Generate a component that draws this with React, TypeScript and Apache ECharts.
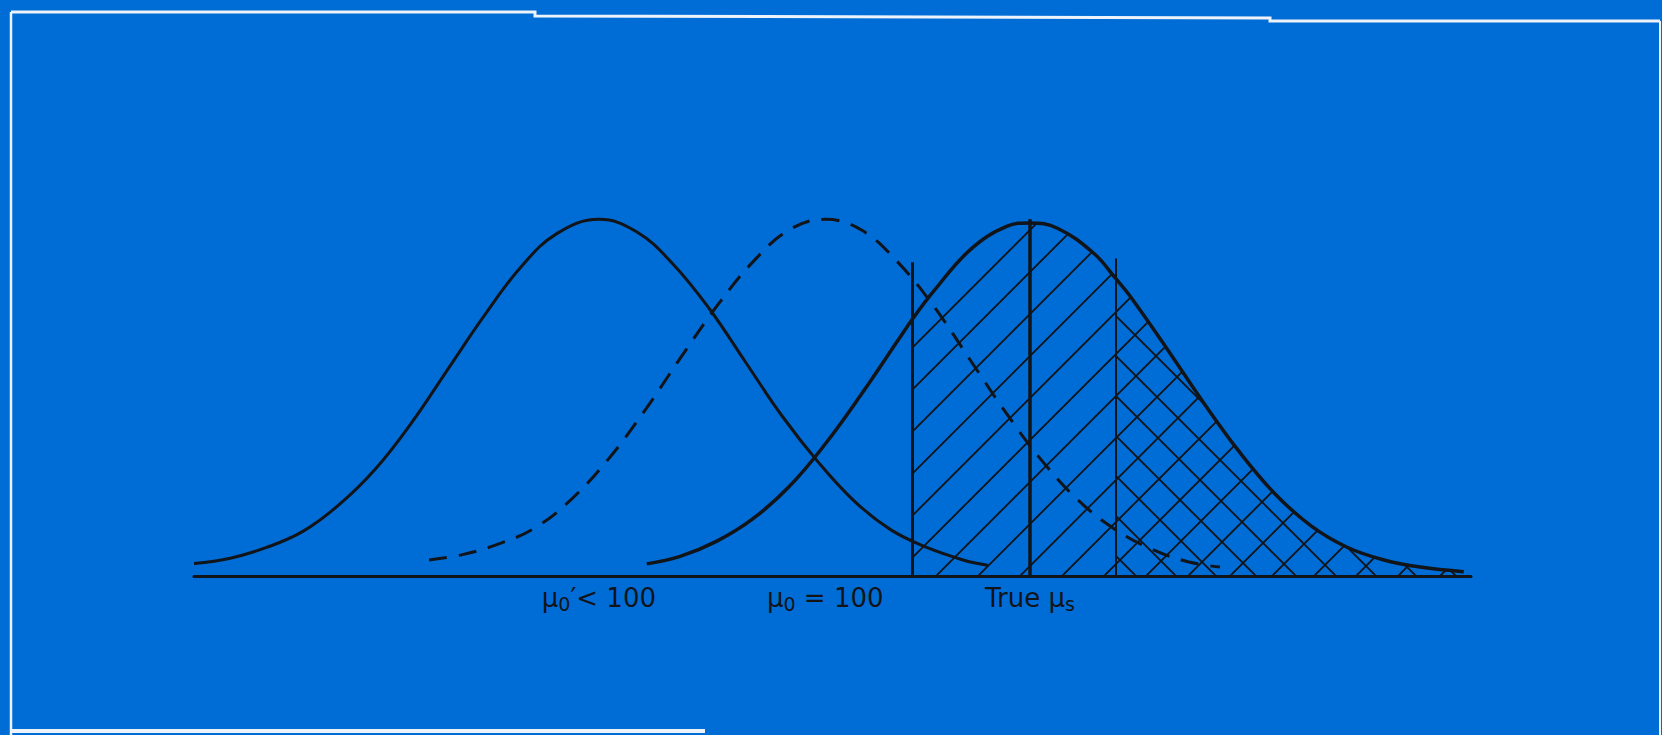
import React, { useEffect, useRef } from "react";
import * as echarts from "echarts";

// ---- data (x in score units, y = relative height) ----
const altNullX = [56.5, 59, 61.5, 64, 66.5, 69, 71.5, 74, 76.5, 79, 81.5, 84.4, 87, 89.5, 92, 94.5, 97, 99.5, 102, 104.5, 107, 109.5, 111.2];
const altNullY = [0.035, 0.05, 0.08, 0.125, 0.2, 0.3, 0.43, 0.58, 0.73, 0.865, 0.96, 1.0, 0.965, 0.875, 0.75, 0.6, 0.45, 0.32, 0.21, 0.13, 0.08, 0.045, 0.03];

const nullX = [72.7, 75, 77.5, 80, 82.5, 85, 87.5, 90, 92.5, 95, 97.5, 100, 102.5, 105, 107.5, 110, 112.5, 115, 117.5, 120, 122.5, 125, 127.2];
const nullY = [0.045, 0.06, 0.09, 0.135, 0.215, 0.325, 0.46, 0.61, 0.755, 0.88, 0.97, 1.0, 0.97, 0.88, 0.755, 0.605, 0.455, 0.32, 0.21, 0.13, 0.075, 0.04, 0.025];

const trueX = [87.7, 90, 92.5, 95, 97.5, 100, 102.5, 105, 106, 107.5, 110, 112.5, 114.1, 116, 118.5, 120, 121, 123.5, 126, 128.5, 131, 133.5, 136, 138.5, 141, 144];
const trueY = [0.034, 0.055, 0.097, 0.16, 0.25, 0.37, 0.51, 0.66, 0.72, 0.8, 0.915, 0.98, 0.99, 0.975, 0.905, 0.835, 0.785, 0.64, 0.49, 0.35, 0.23, 0.14, 0.08, 0.045, 0.025, 0.012];

const criticalX = 106;
const criticalTop = 0.88;
const trueMeanX = 114.1;
const trueMeanTop = 1.0;
const upperX = 120;
const upperTop = 0.89;

const tickValues = [84.4, 100, 114.1];
const tickLabels = [
  "{t|μ}{s|0}{t|′< 100}",
  "{t|μ}{s|0}{t| = 100}",
  "{t|True μ}{s|s}",
];

const BG = "#006CD6";
const INK = "#111418";

function hatch(dir: number, w: number, h: number, lw: number) {
  const c = document.createElement("canvas");
  c.width = w;
  c.height = h;
  const ctx = c.getContext("2d")!;
  ctx.strokeStyle = INK;
  ctx.lineWidth = lw;
  ctx.beginPath();
  if (dir > 0) {
    ctx.moveTo(0, h); ctx.lineTo(w, 0);
    ctx.moveTo(-w / 2, h / 2); ctx.lineTo(w / 2, -h / 2);
    ctx.moveTo(w / 2, h * 1.5); ctx.lineTo(w * 1.5, h / 2);
  } else {
    ctx.moveTo(0, 0); ctx.lineTo(w, h);
    ctx.moveTo(w / 2, -h / 2); ctx.lineTo(w * 1.5, h / 2);
    ctx.moveTo(-w / 2, h / 2); ctx.lineTo(w / 2, h * 1.5);
  }
  ctx.stroke();
  return { image: c, repeat: "repeat", imageWidth: w, imageHeight: h } as any;
}

const zip = (xs: number[], ys: number[]) => xs.map((x, i) => [x, ys[i]]);

export default function App() {
  const ref = useRef<HTMLDivElement>(null);
  useEffect(() => {
    document.body.style.margin = "0";
    document.body.style.background = BG;
    const chart = echarts.init(ref.current!, null, { renderer: "svg" });
    const trueData = zip(trueX, trueY);
    const rightHatch = trueData.filter((p) => p[0] >= criticalX);
    const crossHatch = trueData.filter((p) => p[0] >= upperX);
    const vline = (x: number, top: number, w: number) => [
      { coord: [x, 0], lineStyle: { color: INK, width: w, type: "solid" } },
      { coord: [x, top] },
    ];
    const SM = 0.4;
    chart.setOption({
      animation: false,
      backgroundColor: BG,
      grid: { left: 194, right: 191, top: 148, bottom: 159 },
      xAxis: {
        type: "value",
        min: 56.5,
        max: 144.5,
        axisLine: { show: true, lineStyle: { color: INK, width: 3 } },
        axisTick: { show: false },
        splitLine: { show: false },
        axisLabel: {
          customValues: tickValues,
          margin: 6,
          formatter: (v: number) => {
            const i = tickValues.findIndex((t) => Math.abs(t - v) < 1e-6);
            return i >= 0 ? tickLabels[i] : "";
          },
          rich: {
            t: { fontFamily: "DejaVu Sans", fontSize: 26, color: INK },
            s: { fontFamily: "DejaVu Sans", fontSize: 19, color: INK, padding: [12, 0, 0, 0] },
          },
        },
      },
      yAxis: { type: "value", min: 0, max: 1.2, show: false },
      graphic: [
        { type: "polyline", silent: true, shape: { points: [[11, 12], [535, 12], [535, 16], [1270, 18], [1270, 21], [1660, 21]] }, style: { stroke: "#EEF3FA", lineWidth: 3, fill: null } },
        { type: "line", silent: true, shape: { x1: 11, y1: 12, x2: 11, y2: 735 }, style: { stroke: "#EEF3FA", lineWidth: 2.5 } },
        { type: "line", silent: true, shape: { x1: 1660, y1: 21, x2: 1660, y2: 735 }, style: { stroke: "#EEF3FA", lineWidth: 2 } },
        { type: "line", silent: true, shape: { x1: 11, y1: 731, x2: 705, y2: 731 }, style: { stroke: "#EEF3FA", lineWidth: 4 } },
      ],
      series: [
        {
          type: "line", data: rightHatch, smooth: SM, showSymbol: false, z: 1,
          lineStyle: { width: 0, opacity: 0 },
          areaStyle: { color: hatch(1, 42, 42, 1.8), opacity: 1 },
        },
        {
          type: "line", data: crossHatch, smooth: SM, showSymbol: false, z: 1,
          lineStyle: { width: 0, opacity: 0 },
          areaStyle: { color: hatch(-1, 40, 40, 1.8), opacity: 1 },
        },
        {
          type: "line", data: zip(altNullX, altNullY), smooth: SM, showSymbol: false, z: 3,
          lineStyle: { color: INK, width: 3 },
        },
        {
          type: "line", data: zip(nullX, nullY), smooth: SM, showSymbol: false, z: 3,
          lineStyle: { color: INK, width: 3, type: [18, 12] },
        },
        {
          type: "line", data: trueData, smooth: SM, showSymbol: false, z: 3,
          lineStyle: { color: INK, width: 3.5 },
          markLine: {
            silent: true, symbol: ["none", "none"], label: { show: false },
            data: [vline(criticalX, criticalTop, 3), vline(trueMeanX, trueMeanTop, 3.5), vline(upperX, upperTop, 2)],
          },
        },
      ],
    });
    return () => chart.dispose();
  }, []);
  return <div ref={ref} style={{ width: 1662, height: 735 }} />;
}
